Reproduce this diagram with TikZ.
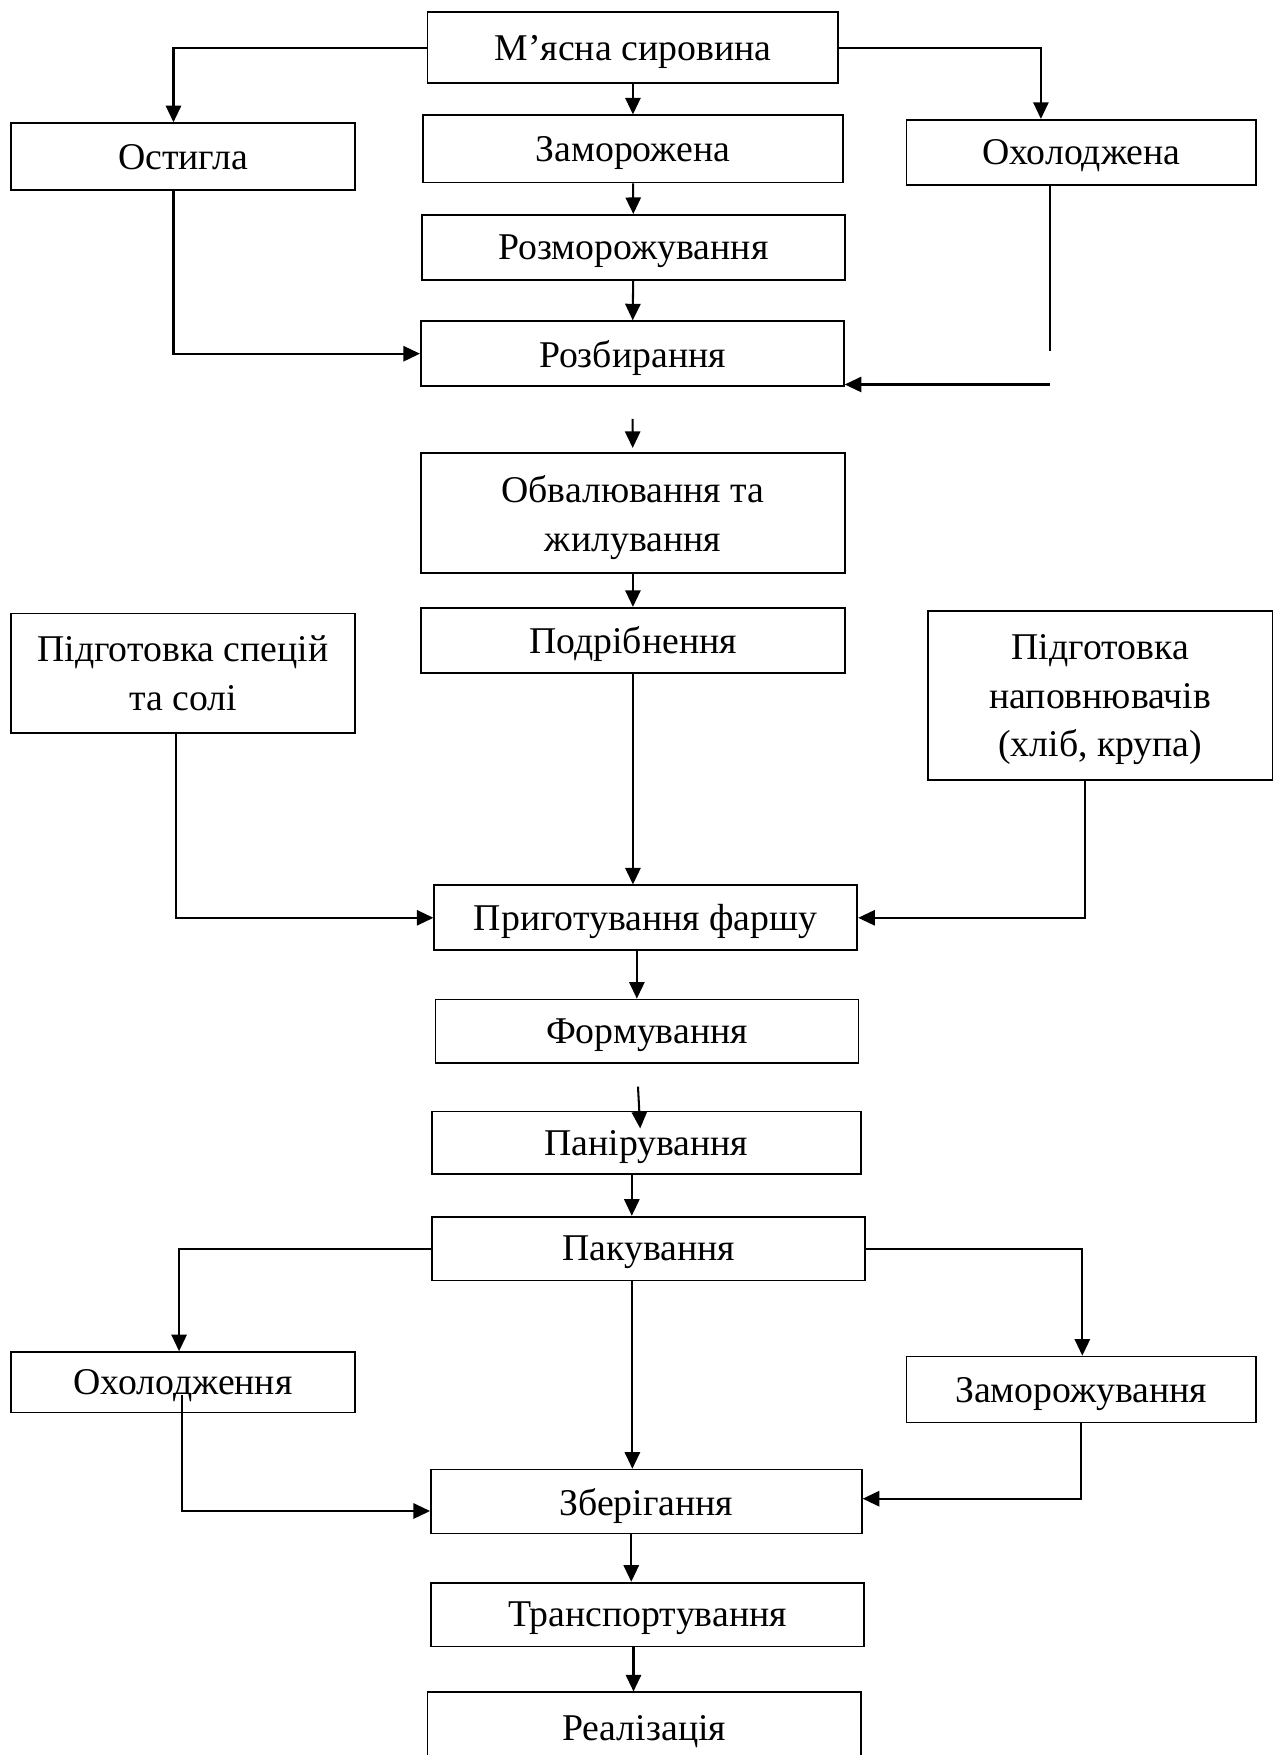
\documentclass[tikz,border=0pt]{standalone}
\usepackage{fontspec}
\setmainfont{Liberation Serif}
\usetikzlibrary{arrows.meta}
\newcommand{\rpx}{0.025cm}

\begin{document}
\begin{tikzpicture}[
  x=0.025cm, y=-0.025cm,
  box/.style={rectangle, draw, line width=1.1pt, align=center,
              font=\fontsize{24}{31}\selectfont, inner sep=0pt, text depth=0pt},
  dims/.style 2 args={minimum width=#1*\rpx, minimum height=#2*\rpx},
  wire/.style={draw, line width=1.3pt},
  arr/.style={wire, ->},
  >={Triangle[length=3.7mm, width=3.4mm]}
]
\useasboundingbox (0,0) rectangle (1142,1568);

% raw material and its three states
\node[box, dims={367}{63}] (raw)    at (565.5,42.5) {М’ясна сировина};
\node[box, dims={307}{60}] (ostyg)  at (163.5,140)  {Остигла};
\node[box, dims={375}{60}] (zamor)  at (565.5,133)  {Заморожена};
\node[box, dims={312}{58}] (okhol)  at (966,136)    {Охолоджена};
\node[box, dims={378}{58}] (rozmor) at (566,221)    {Розморожування};
\node[box, dims={378}{58}] (rozbyr) at (565,316)    {Розбирання};

% meat processing
\node[box, dims={379}{107}] (obval)  at (565.5,458.5) {Обвалювання та\\жилування};
\node[box, dims={379}{58}]  (podrib) at (565.5,572)   {Подрібнення};
\node[box, dims={307}{107}] (spec)   at (163.5,601.5) {Підготовка спецій\\та солі};
\node[box, dims={308}{151}] (napov)  at (983,621.5)   {Підготовка\\наповнювачів\\(хліб, крупа)};
\node[box, dims={378}{58}]  (farsh)  at (577,820)     {Приготування фаршу};
\node[box, dims={378}{57}]  (form)   at (578,921.5)   {Формування};
\node[box, dims={383}{56}]  (panir)  at (577.5,1021)  {Панірування};
\node[box, dims={387}{57}]  (pakuv)  at (579.5,1115.5) {Пакування};

% storage and sale
\node[box, dims={307}{54}] (okhold)  at (163.5,1235)  {Охолодження};
\node[box, dims={312}{59}] (zamorzh) at (966,1241.5)  {Заморожування};
\node[box, dims={385}{57}] (zber)    at (577.5,1341.5) {Зберігання};
\node[box, dims={387}{57}] (transp)  at (578.5,1442.5) {Транспортування};
\node[box, dims={387}{64}] (real)    at (575.5,1544)  {Реалізація};

% Arrows: raw material split
\draw[arr] (raw.west) -| ([xshift=-8.5*\rpx]ostyg.north);
\draw[arr] (raw.east) -| ([xshift=-36*\rpx]okhol.north);
\draw[arr] (raw) -- (zamor);
\draw[arr] (zamor) -- (rozmor);
\draw[arr] (rozmor) -- (rozbyr);
\draw[arr] ([xshift=-8.5*\rpx]ostyg.south) |- (rozbyr.west);

% chilled meat -> cutting (line is broken)
\coordinate (okhend)  at (938,314);
\coordinate (okhturn) at (938,343.5);
\draw[wire] (okhend |- okhol.south) -- (okhend);
\draw[arr] (okhturn) -- (okhturn -| rozbyr.east);

% Arrows: main column
\draw[arr, shorten <=28.5*\rpx, shorten >=4*\rpx] (rozbyr) -- (obval);
\draw[arr] (obval) -- (podrib);
\draw[arr] (podrib.south) -- (podrib.south |- farsh.north);
\draw[arr] ([xshift=-6.5*\rpx]spec.south) |- (farsh.west);
\draw[arr] ([xshift=-14*\rpx]napov.south) |- (farsh.east);
\draw[arr] ([xshift=-8*\rpx]farsh.south) -- ([xshift=-8*\rpx]farsh.south |- form.north);
\draw[arr] ([xshift=-8*\rpx, yshift=-20*\rpx]form.south) -- ([xshift=-5.5*\rpx, yshift=-16*\rpx]panir.north);
\draw[arr] ([xshift=-13*\rpx]panir.south) -- ([xshift=-13*\rpx]panir.south |- pakuv.north);

% Arrows: packing -> storage
\draw[arr] (pakuv.west) -| ([xshift=-3.5*\rpx]okhold.north);
\draw[arr] (pakuv.east) -| ([xshift=1*\rpx]zamorzh.north);
\draw[arr] ([xshift=-14.5*\rpx]pakuv.south) -- ([xshift=-14.5*\rpx]pakuv.south |- zber.north);
\draw[arr] ([xshift=-0.5*\rpx, yshift=16*\rpx]okhold.south) |- ([yshift=-8.5*\rpx]zber.west);
\draw[arr] (zamorzh.south) |- ([yshift=2.5*\rpx]zber.east);

% Arrows: storage -> sale
\draw[arr] ([xshift=-13.5*\rpx]zber.south) -- ([xshift=-13.5*\rpx]zber.south |- transp.north);
\draw[arr] ([xshift=-12.5*\rpx]transp.south) -- ([xshift=-12.5*\rpx]transp.south |- real.north);

\end{tikzpicture}
\end{document}
